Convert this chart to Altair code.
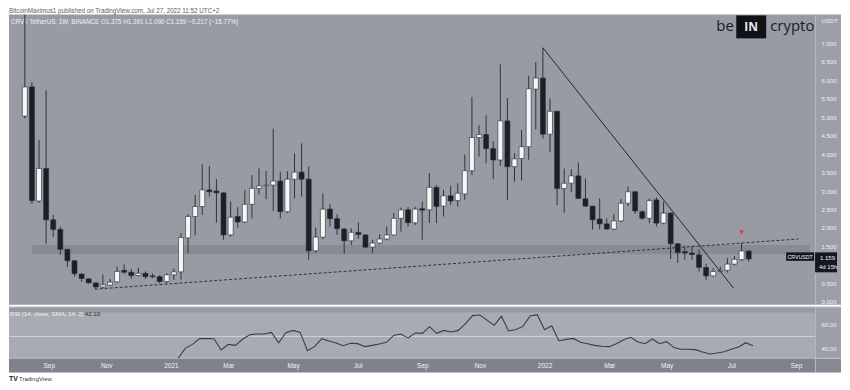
import altair as alt
import pandas as pd

# ---------------- data ----------------
FIRST_WEEK = "2020-08-10"  # Monday of the first weekly candle

OPEN = [
    5.03, 5.82, 2.73, 3.61, 2.22, 1.96, 1.42, 1.11, 0.75, 0.62,
    0.51, 0.40, 0.45, 0.54, 0.85, 0.80, 0.71, 0.77, 0.70, 0.68,
    0.55, 0.73, 0.81, 1.73, 2.31, 2.58, 3.03, 3.00, 2.95, 1.81,
    2.31, 2.16, 2.64, 3.07, 3.14, 3.16, 3.27, 2.44, 3.32, 3.51,
    3.32, 1.38, 1.75, 2.51, 2.25, 1.97, 1.65, 1.88, 1.81, 1.48,
    1.59, 1.70, 1.81, 2.26, 2.49, 2.14, 2.52, 2.49, 3.10, 2.59,
    2.87, 2.74, 2.92, 3.55, 4.45, 4.53, 4.15, 3.84, 4.90, 3.66,
    3.88, 4.20, 5.76, 6.06, 4.54, 5.16, 3.07, 3.21, 3.41, 2.79,
    2.59, 2.24, 2.11, 1.97, 2.19, 2.67, 2.98, 2.44, 2.26, 2.76,
    2.13, 2.40, 1.57, 1.36, 1.32, 1.27, 0.93, 0.70, 0.82, 0.85,
    1.02, 1.14, 1.375,
]
HIGH = [
    7.78, 5.95, 4.38, 5.73, 2.35, 2.04, 1.43, 1.13, 0.77, 0.63,
    0.52, 0.74, 0.62, 0.95, 1.01, 0.89, 0.92, 0.82, 0.76, 0.72,
    0.77, 0.90, 1.86, 2.37, 2.89, 3.72, 3.68, 3.32, 2.96, 2.71,
    2.56, 3.03, 3.43, 3.61, 3.54, 4.69, 3.52, 3.54, 4.02, 4.29,
    3.66, 2.01, 2.94, 2.64, 2.37, 2.00, 1.99, 2.15, 1.83, 1.68,
    1.83, 2.04, 2.41, 2.55, 2.57, 2.57, 2.71, 3.49, 3.16, 3.03,
    3.14, 3.21, 3.99, 5.55, 4.78, 5.05, 4.35, 6.43, 5.52, 4.02,
    4.65, 6.12, 6.49, 6.88, 5.51, 5.17, 3.61, 3.59, 3.77, 3.34,
    2.60, 2.80, 2.26, 2.38, 2.78, 3.12, 2.99, 2.47, 2.80, 2.83,
    2.71, 2.42, 1.59, 1.49, 1.49, 1.41, 1.03, 0.91, 0.95, 1.18,
    1.24, 1.60, 1.391,
]
LOW = [
    4.97, 2.65, 2.68, 1.57, 1.76, 1.27, 0.94, 0.68, 0.54, 0.49,
    0.34, 0.36, 0.43, 0.52, 0.76, 0.62, 0.69, 0.62, 0.64, 0.50,
    0.50, 0.59, 0.60, 1.32, 1.80, 2.35, 2.85, 2.14, 1.68, 1.76,
    2.01, 2.13, 2.26, 2.91, 2.78, 2.46, 2.26, 2.40, 2.80, 2.85,
    1.14, 1.33, 1.69, 2.04, 1.81, 1.30, 1.54, 1.70, 1.46, 1.32,
    1.56, 1.66, 1.79, 1.90, 2.04, 2.08, 1.68, 2.13, 2.13, 2.31,
    2.62, 2.58, 2.76, 3.43, 3.93, 3.75, 3.32, 3.68, 2.76, 3.25,
    3.28, 3.85, 4.67, 4.42, 4.06, 2.62, 2.41, 2.98, 2.78, 2.58,
    1.95, 1.96, 1.95, 1.94, 2.16, 2.59, 2.38, 2.22, 2.13, 2.04,
    2.10, 1.16, 1.05, 1.14, 1.14, 0.82, 0.59, 0.68, 0.80, 0.79,
    0.98, 1.11, 1.090,
]
CLOSE = [
    5.82, 2.74, 3.61, 2.22, 1.96, 1.42, 1.11, 0.76, 0.63, 0.51,
    0.40, 0.46, 0.53, 0.82, 0.80, 0.71, 0.77, 0.68, 0.68, 0.55,
    0.73, 0.81, 1.74, 2.31, 2.58, 3.03, 2.98, 2.95, 1.81, 2.29,
    2.16, 2.64, 3.07, 3.14, 3.16, 3.27, 2.44, 3.32, 3.51, 3.32,
    1.38, 1.75, 2.51, 2.25, 1.98, 1.65, 1.88, 1.82, 1.48, 1.59,
    1.70, 1.81, 2.26, 2.49, 2.14, 2.51, 2.48, 3.10, 2.58, 2.87,
    2.73, 2.94, 3.55, 4.45, 4.53, 4.15, 3.84, 4.90, 3.66, 3.87,
    4.20, 5.77, 6.06, 4.54, 5.16, 3.07, 3.21, 3.41, 2.80, 2.59,
    2.22, 2.11, 1.97, 2.19, 2.67, 2.98, 2.46, 2.26, 2.74, 2.13,
    2.40, 1.57, 1.33, 1.32, 1.28, 0.93, 0.70, 0.82, 0.85, 1.02,
    1.15, 1.376, 1.159,
]

RSI_START = 22  # index of the first candle that has an RSI value
RSI = [
    31.5, 40.0, 43.3, 48.1, 48.2, 48.0, 38.6, 43.3, 42.5, 47.8,
    51.4, 52.0, 52.0, 53.3, 44.7, 53.1, 55.0, 53.3, 38.1, 41.4,
    48.1, 46.2, 44.5, 42.2, 44.2, 43.9, 41.4, 42.5, 43.6, 45.0,
    50.8, 52.0, 48.7, 52.8, 52.5, 58.1, 52.5, 55.0, 53.6, 55.0,
    60.6, 67.3, 67.8, 63.6, 59.2, 66.7, 54.5, 55.8, 58.3, 67.0,
    68.1, 55.6, 58.9, 46.4, 47.5, 48.3, 45.0, 43.9, 42.5, 41.7,
    41.4, 43.9, 47.2, 49.2, 45.3, 43.9, 47.8, 43.9, 45.6, 40.6,
    39.2, 39.2, 38.9, 37.0, 35.3, 36.1, 37.2, 39.2, 41.1, 44.7,
    42.1,
]

PRICE_TICKS = [0.0, 0.5, 1.5, 2.0, 2.5, 3.0, 3.5, 4.0, 4.5, 5.0, 5.5, 6.0, 6.5, 7.0]
RSI_TICKS = [40, 60]
RSI_BAND = [70, 30]
RSI_MID = [50]
# month labels sit on the first weekly bar of each month (as TradingView does)
TIME_TICKS = [(2020, 9, 7), (2020, 11, 2), (2021, 1, 4), (2021, 3, 1), (2021, 5, 3),
              (2021, 7, 5), (2021, 9, 6), (2021, 11, 1), (2022, 1, 3), (2022, 3, 7),
              (2022, 5, 2), (2022, 7, 4), (2022, 9, 5)]

ZONE_START = ["2020-08-17T00:00:00"]
ZONE_LOW = [1.29]
ZONE_HIGH = [1.54]
SUPPORT_DATES = ["2020-10-18T00:00:00", "2022-09-12T00:00:00"]
SUPPORT_PRICES = [0.34, 1.70]
RESIST_DATES = ["2022-01-03T00:00:00", "2022-07-10T00:00:00"]
RESIST_PRICES = [6.88, 0.37]
SIGNAL_DATES = ["2022-07-18T00:00:00"]
SIGNAL_PRICES = [1.88]

HEADER = "BitcoinMaximus1 published on TradingView.com, Jul 27, 2022 11:52 UTC+2"
LEGEND = "CRV / TetherUS, 1W, BINANCE   O1.375  H1.391  L1.090  C1.159  \u22120.217 (\u221215.77%)"

# ---------------- layout / style ----------------
FONT = "Liberation Sans"
W, H1, H2, RIGHT = 808, 297, 52, 834
PANE, BAND, ZONE_C, STRIP, TIME_BAND = "#989ba3", "#a8abb2", "#888b93", "#9c9fa7", "#7f828a"
SEP, TXT, DARK = "#b8bac0", "#f1f2f4", "#1c1f27"

X_DOMAIN = [alt.DateTime(year=2020, month=7, date=30, hours=7, minutes=26),
            alt.DateTime(year=2022, month=9, date=23, hours=13)]
X_END = "2022-09-23T13:00:00"
xs = alt.Scale(domain=X_DOMAIN, nice=False)
ys = alt.Scale(domain=[-3 / 37, 7 + 35 / 37], nice=False, zero=False)
rs = alt.Scale(domain=[31.42, 74.75], nice=False, zero=False)

PRICE_AXIS = alt.Axis(orient="right", values=PRICE_TICKS, format=".3f", ticks=False, domain=False,
                      grid=False, labelPadding=6, labelAlign="left", labelFontSize=6,
                      labelColor=TXT, labelOverlap=False, zindex=1, titleAngle=0, titleX=6,
                      titleY=12, titleAlign="left", titleBaseline="middle", titleFontSize=6,
                      titleFontWeight="normal", titleColor=TXT)
RSI_AXIS = alt.Axis(orient="right", values=RSI_TICKS, format=".2f", ticks=False, domain=False,
                    grid=False, labelPadding=6, labelAlign="left", labelFontSize=6,
                    labelColor=TXT, labelOverlap=False, zindex=1, title=None)
X_AXIS = alt.Axis(orient="bottom",
                  values=[alt.DateTime(year=y, month=m, date=d) for y, m, d in TIME_TICKS],
                  labelExpr="month(datum.value) == 0 ? timeFormat(datum.value, '%Y') : timeFormat(datum.value, '%b')",
                  ticks=False, domain=False, grid=False, labelPadding=4, labelFontSize=6.5,
                  labelColor=TXT, labelFlush=False, labelOverlap=False, zindex=1, title=None)

dates = pd.date_range(FIRST_WEEK, periods=len(OPEN), freq="7D")
candles = pd.DataFrame({"date": dates, "open": OPEN, "high": HIGH, "low": LOW, "close": CLOSE})
rsi_df = pd.DataFrame({"date": dates[RSI_START:RSI_START + len(RSI)], "rsi": RSI})
zone_df = pd.DataFrame({"start": ZONE_START, "end": [X_END], "lo": ZONE_LOW, "hi": ZONE_HIGH})
support_df = pd.DataFrame({"date": SUPPORT_DATES, "price": SUPPORT_PRICES})
resist_df = pd.DataFrame({"date": RESIST_DATES, "price": RESIST_PRICES})
signal_df = pd.DataFrame({"date": SIGNAL_DATES, "price": SIGNAL_PRICES})
band_df = pd.DataFrame({"hi": [RSI_BAND[0]], "lo": [RSI_BAND[1]]})
mid_df = pd.DataFrame({"mid": RSI_MID})
one = pd.DataFrame({"v": [0]})


def panel(x, x2, y, y2, color):
    return alt.Chart(one).mark_rect(color=color).encode(
        x=alt.value(x), x2=alt.value(x2), y=alt.value(y), y2=alt.value(y2))


def label(text, x, y, size, color, align="left", baseline="middle", weight="normal", font=FONT):
    return alt.Chart(one).mark_text(text=text, align=align, baseline=baseline, fontSize=size,
                                    color=color, fontWeight=weight, font=font).encode(
        x=alt.value(x), y=alt.value(y))


def px(field):
    return alt.X(field, type="temporal", scale=xs, axis=None)


def py(field):
    return alt.Y(field, type="quantitative", scale=ys, axis=PRICE_AXIS, title="USDT")


zone = alt.Chart(zone_df).mark_rect(color=ZONE_C).encode(
    x=px("start"), x2="end:T", y=py("lo"), y2="hi:Q")
support = alt.Chart(support_df).mark_line(color="#30333b", strokeWidth=1, strokeDash=[3, 2]).encode(
    x=px("date"), y=py("price"))
wicks = alt.Chart(candles).mark_rule(color="#30333b", strokeWidth=1).encode(
    x=px("date"), y=py("low"), y2="high:Q")
bodies = alt.Chart(candles).mark_bar(size=5, stroke="#2a2d35", strokeWidth=0.6).encode(
    x=px("date"), y=py("open"), y2="close:Q",
    color=alt.condition("datum.close >= datum.open", alt.value("#f6f6f6"), alt.value(DARK)))
resist = alt.Chart(resist_df).mark_line(color="#23262e", strokeWidth=1).encode(
    x=px("date"), y=py("price"))
signal = alt.Chart(signal_df).mark_point(shape="triangle-down", filled=True, size=22,
                                         color="#e23b3b", opacity=1).encode(
    x=px("date"), y=py("price"))

price = alt.layer(
    panel(0, W, 6, H1, PANE),
    panel(W, RIGHT, 6, H1, STRIP),
    alt.Chart(one).mark_rule(color=SEP).encode(x=alt.value(W + 0.5), y=alt.value(6), y2=alt.value(H1)),
    zone, support, wicks, bodies, resist, signal,
    label(HEADER, 0, 0, 6.3, "#5a5d65", baseline="top"),
    label(LEGEND, 2, 14, 6.3, TXT),
    label("be", 709, 22.7, 15, "#1a1b1f", baseline="alphabetic", font="Open Sans"),
    panel(729, 759, 7, 30, "#111216"),
    label("IN", 744, 19, 12, "#e6e6e6", align="center", weight="bold", font="Open Sans"),
    label("crypto", 763, 22.7, 15, "#1a1b1f", baseline="alphabetic", font="Open Sans"),
    panel(779, 807, 244.5, 253, "#131722"),
    label("CRVUSDT", 793, 249, 5.3, TXT, align="center"),
    panel(808, 830, 244.5, 264.5, "#131722"),
    label("1.159", 813, 250, 6, TXT),
    label("4d 15h", 812, 258.7, 6, TXT),
).properties(width=W, height=H1)

rsi_line = alt.Chart(rsi_df).mark_line(color="#3a3d45", strokeWidth=1.1, clip=True).encode(
    x=alt.X("date:T", scale=xs, axis=X_AXIS),
    y=alt.Y("rsi:Q", scale=rs, axis=RSI_AXIS))
band = alt.Chart(band_df).mark_rect(color=BAND, clip=True).encode(
    x=alt.value(0), x2=alt.value(W), y=alt.Y("hi:Q", scale=rs, axis=RSI_AXIS), y2="lo:Q")
mid = alt.Chart(mid_df).mark_rule(color="#d3d5da", strokeWidth=1).encode(
    x=alt.value(0), x2=alt.value(W), y=alt.Y("mid:Q", scale=rs, axis=RSI_AXIS))

rsi = alt.layer(
    panel(0, W, 0, H2, PANE),
    band, mid,
    panel(W, RIGHT, 0, H2, STRIP),
    panel(0, W, H2, H2 + 14, TIME_BAND),
    panel(W, RIGHT, H2, H2 + 14, "#878a92"),
    alt.Chart(one).mark_rule(color=SEP).encode(x=alt.value(0), x2=alt.value(RIGHT), y=alt.value(0.5)),
    alt.Chart(one).mark_rule(color=SEP).encode(x=alt.value(0), x2=alt.value(RIGHT), y=alt.value(H2 - 0.5)),
    alt.Chart(one).mark_rule(color=SEP).encode(x=alt.value(W + 0.5), y=alt.value(0), y2=alt.value(H2 + 14)),
    rsi_line,
    label("RSI (14, close, SMA, 14, 2)", 1, 7.7, 6.1, TXT),
    label("42.10", 76, 7.7, 6.1, "#2a2d35"),
    label("TV", 0, 72.5, 7, "#1e2026", weight="bold"),
    label("TradingView", 10, 72.5, 6, "#3a3c42"),
).properties(width=W, height=H2)

chart = alt.vconcat(price, rsi, spacing=0).properties(
    padding=0, background="white"
).configure_view(stroke=None).configure_axis(labelFont=FONT, titleFont=FONT)

chart.save("out.html", embed_options={"renderer": "svg", "actions": False})
